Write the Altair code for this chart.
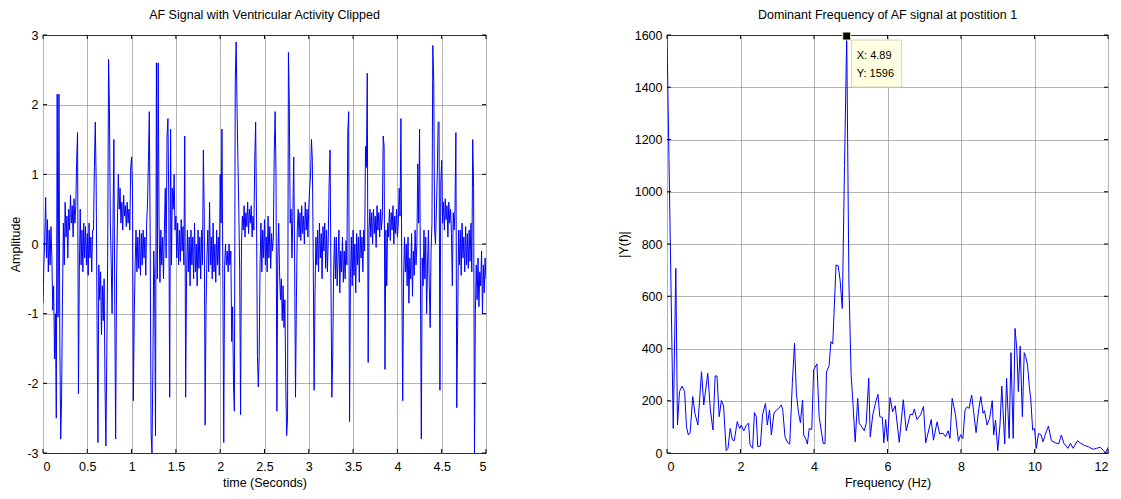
import altair as alt
import pandas as pd
import numpy as np

# ---------------- data: left panel (AF signal, sampled every 0.01 s) ----------------
DT = 0.01
signal = [
    -0.85, -0.30, 0.10, 0.67, -0.20, 0.35, -0.40, 0.20, -0.30, 0.25,   # 0.0
    -0.20, -0.95, -0.60, -1.65, -1.00, -2.50, 2.15, -1.05, 2.15, -1.40,  # 0.1
    -2.80, -2.20, -0.75, 0.30, -0.30, 0.60, 0.10, 0.40, -0.20, 0.50,   # 0.2
    0.20, 0.70, 0.30, 0.55, 0.10, 0.65, 0.30, 0.55, 1.20, 1.60,        # 0.3
    -2.15, -0.40, 0.50, -0.30, 0.20, -0.40, 0.30, -0.20, 0.25, -0.30,  # 0.4
    0.15, -0.45, 0.30, -0.20, 0.10, -0.40, 0.20, 0.20, 1.10, 1.75,     # 0.5
    0.90, -1.10, -2.85, -0.30, -0.80, -0.40, -1.30, -0.60, -1.10, -0.50,  # 0.6
    -2.05, -2.90, -1.60, -0.20, 2.65, 1.95, 0.30, -0.30, -1.00, 0.30,  # 0.7
    1.50, -0.90, -2.80, -0.50, 0.30, 1.00, 0.50, 0.80, 0.30, 0.60,     # 0.8
    0.20, 0.70, 0.40, 0.55, 0.25, 0.60, 0.30, 0.50, 0.20, 1.10,        # 0.9
    1.25, 0.80, -2.25, -1.00, -0.30, 0.20, -0.40, 0.10, -0.35, 0.20,   # 1.0
    -0.45, 0.15, -0.30, 0.20, -0.20, 0.10, -0.45, 0.30, 0.60, 1.20,    # 1.1
    1.90, 0.00, -2.70, -3.00, -1.80, -0.10, -0.60, -2.75, 2.60, -0.50, # 1.2
    2.60, 0.30, -0.55, 0.20, -0.30, 0.10, -0.50, 0.20, 0.80, -0.20,    # 1.3
    1.55, 1.80, 0.60, -2.20, 1.65, -0.30, 0.80, 0.50, 1.00, 0.20,      # 1.4
    0.40, -0.20, 0.30, -0.30, 0.20, -0.25, 0.35, -0.10, 0.25, -0.30,   # 1.5
    1.55, -2.20, -0.50, 0.20, -0.40, 0.10, -0.60, 0.20, -0.30, 0.10,   # 1.6
    -0.50, 0.30, -0.40, 0.00, -0.60, 0.20, -0.35, 0.10, -0.50, 0.20,   # 1.7
    -0.30, 1.35, 0.40, -2.60, -0.90, -0.20, 0.20, -0.40, 0.60, -0.30,  # 1.8
    0.10, -0.50, 0.30, -0.40, 0.00, -0.55, 0.20, -0.30, 0.10, -0.45,   # 1.9
    1.00, 0.30, 1.65, -0.50, -2.85, -0.30, 0.00, -0.30, -0.10, -0.40,  # 2.0
    0.00, -0.30, -0.10, -1.40, -0.90, -2.00, -2.40, 2.35, 2.90, 1.95,  # 2.1
    1.20, 0.50, -0.40, -2.45, 0.00, 0.40, 0.20, 0.55, 0.10, 0.45,      # 2.2
    0.25, 0.60, 0.15, 0.50, 0.30, 0.55, 0.10, 0.40, 0.20, 1.20,        # 2.3
    1.75, 0.40, -1.60, -2.05, -1.60, -0.30, 0.30, -0.40, 0.20, -0.20,  # 2.4
    0.35, -0.30, 0.10, -0.40, 0.40, -0.20, 0.25, -0.35, 0.15, -0.10,   # 2.5
    0.10, 1.30, 1.90, 1.00, -2.40, -0.20, 0.30, -0.40, -0.80, -0.50,   # 2.6
    -1.10, -0.60, -1.20, -0.80, -2.00, -2.75, -2.50, 2.75, 2.00, 0.30, # 2.7
    0.50, -0.20, 0.40, 1.25, -0.20, -2.20, -0.80, 0.20, 0.50, 0.10,    # 2.8
    0.45, 0.05, 0.55, 0.15, 0.40, 0.00, 0.60, 0.20, 0.50, 0.10,        # 2.9
    0.55, 0.80, 1.00, 1.50, 1.20, -0.20, -2.10, -0.70, 0.10, -0.30,    # 3.0
    0.20, -0.40, 0.30, -0.20, 0.15, -0.50, 0.25, -0.10, 0.30, -0.35,   # 3.1
    0.20, -0.40, 0.10, 0.90, 1.35, -0.50, -2.20, -1.60, -0.40, 0.10,   # 3.2
    -0.50, 0.10, -0.60, -0.20, 0.20, -0.70, -0.10, -0.40, 0.10, -0.55, # 3.3
    -0.10, -0.50, 0.05, -0.30, 1.60, 1.90, -2.55, -0.50, 0.10, -0.60,  # 3.4
    0.20, -0.45, 0.00, -0.70, 0.15, -0.30, 0.10, -0.55, 0.20, -0.20,   # 3.5
    0.10, -0.40, 0.20, -0.10, 1.40, 1.10, 2.45, -1.70, 0.20, 0.50,     # 3.6
    0.10, 0.45, 0.00, 0.50, 0.15, 0.40, -0.05, 0.55, 0.20, 0.45,       # 3.7
    0.10, 0.50, 0.20, 0.40, 1.55, 1.40, -1.80, 0.20, -0.60, 0.30,      # 3.8
    0.10, 0.50, 0.05, 0.45, 0.20, 0.55, 0.00, 0.40, 0.15, 0.50,        # 3.9
    0.10, 0.30, 0.80, 0.40, 1.80, -0.50, -2.25, -0.50, 0.10, -0.40,    # 4.0
    0.00, -0.60, 0.10, -0.85, -0.20, -0.50, 0.15, -0.75, -0.10, -0.45, # 4.1
    0.20, -0.30, 0.00, 1.15, 0.30, 1.65, -0.50, -2.80, -0.20, -0.60,   # 4.2
    0.20, -0.50, 0.10, -1.00, -0.30, 0.20, -0.60, -1.20, -0.10, 0.30,  # 4.3
    2.85, 2.35, 0.20, 0.00, 0.50, 1.00, 1.75, 1.75, -2.10, 0.90,       # 4.4
    1.20, 0.30, 0.60, 0.20, 0.65, 0.35, 0.55, 0.10, 0.60, 0.30,        # 4.5
    0.50, 0.15, -0.60, 0.45, 0.20, 0.50, 1.60, -2.35, -1.20, 0.20,     # 4.6
    -0.30, 0.20, -0.45, 0.30, -0.20, 0.10, -0.40, 0.25, -0.30, 0.15,   # 4.7
    -0.35, 0.20, -0.25, 0.30, -0.40, 1.50, 0.80, -3.00, -1.00, -0.30,  # 4.8
    -0.80, -0.20, -0.90, -0.40, -0.60, -0.10, -1.00, -0.30, -0.70, -0.20,  # 4.9
    -0.50,
]
time_ticks = [0, 0.5, 1, 1.5, 2, 2.5, 3, 3.5, 4, 4.5, 5]
amp_ticks = [-3, -2, -1, 0, 1, 2, 3]

# ---------------- data: right panel (magnitude spectrum) ----------------
freq = [
    0.00, 0.17, 0.24, 0.285, 0.34, 0.41, 0.48, 0.53, 0.58, 0.63, 0.70, 0.76, 0.84, 0.94,
    1.00, 1.11, 1.18, 1.25, 1.31, 1.36, 1.42, 1.48, 1.54, 1.61, 1.66, 1.72, 1.78, 1.83,
    1.91, 1.98, 2.02, 2.09, 2.16, 2.22, 2.26, 2.33, 2.38, 2.43, 2.47, 2.54, 2.60, 2.68,
    2.73, 2.79, 2.84, 2.91, 2.98, 3.04, 3.11, 3.15, 3.21, 3.28, 3.34, 3.41, 3.47, 3.52,
    3.58, 3.63, 3.69, 3.72, 3.78, 3.82, 3.87, 3.94, 3.99, 4.08, 4.14, 4.25, 4.30, 4.34,
    4.41, 4.46, 4.51, 4.60, 4.66, 4.71, 4.77, 4.83, 4.89, 4.95, 5.01, 5.06, 5.12, 5.19,
    5.23, 5.30, 5.37, 5.42, 5.49, 5.53, 5.60, 5.67, 5.74, 5.79, 5.86, 5.90, 5.95, 6.00,
    6.07, 6.14, 6.21, 6.32, 6.43, 6.51, 6.62, 6.68, 6.73, 6.80, 6.90, 6.98, 7.04, 7.19,
    7.25, 7.35, 7.42, 7.51, 7.58, 7.65, 7.70, 7.76, 7.85, 7.93, 7.99, 8.05, 8.11, 8.17,
    8.22, 8.29, 8.36, 8.41, 8.48, 8.54, 8.60, 8.64, 8.71, 8.78, 8.85, 8.89, 8.94, 9.00,
    9.06, 9.11, 9.19, 9.24, 9.31, 9.36, 9.42, 9.47, 9.52, 9.56, 9.61, 9.67, 9.72, 9.76,
    9.81, 9.86, 9.90, 9.95, 10.00, 10.05, 10.11, 10.18, 10.23, 10.32, 10.38, 10.46, 10.57,
    10.66, 10.73, 10.80, 10.91, 10.98, 11.05, 11.17, 11.26, 11.37, 11.47, 11.59, 11.69,
    11.79, 11.88, 11.93, 12.00,
]
mag = [
    1600, 94, 707, 107, 235, 256, 235, 101, 69, 78, 216, 152, 107, 311,
    184, 305, 165, 88, 295, 295, 139, 201, 180, 9, 18, 94, 50, 47,
    120, 94, 107, 85, 107, 114, 31, 18, 155, 139, 24, 27, 146, 190,
    107, 165, 69, 152, 165, 171, 184, 165, 63, 40, 34, 267, 420, 229,
    152, 116, 203, 69, 53, 34, 94, 90, 318, 341, 139, 37, 35, 311,
    333, 426, 417, 720, 716, 662, 553, 1100, 1596, 650, 300, 190, 43, 209,
    114, 100, 85, 114, 286, 62, 146, 190, 225, 139, 136, 39, 128, 45,
    212, 158, 181, 41, 204, 85, 149, 146, 168, 128, 146, 178, 39, 128,
    49, 119, 73, 76, 62, 85, 56, 209, 146, 45, 70, 55, 165, 177,
    171, 222, 139, 78, 165, 216, 152, 162, 107, 133, 200, 69, 126, 9,
    107, 256, 35, 286, 56, 384, 56, 477, 394, 235, 409, 139, 384, 369,
    337, 254, 203, 88, 94, 18, 75, 69, 43, 82, 103, 47, 39,
    35, 69, 37, 18, 37, 18, 47, 37, 28, 24, 14, 18,
    22, 9, 0, 22,
]
freq_ticks = [0, 2, 4, 6, 8, 10, 12]
mag_ticks = [0, 200, 400, 600, 800, 1000, 1200, 1400, 1600]
tip_x, tip_y = 4.89, 1596

# ---------------- styling ----------------
FONT = "Liberation Sans"
FS = 12.5
BLUE = "#0000ff"
LW, RW, H = 443, 441, 418
TICK = 4

sig_df = pd.DataFrame({"t": np.round(np.arange(len(signal)) * DT, 3), "v": signal})
spec_df = pd.DataFrame({"f": freq, "m": mag})

def axis(title, values):
    return alt.Axis(title=title, values=values, labelExpr="'' + datum.value",
                    grid=True, ticks=False, domain=False)

# ---------- left panel ----------
xl = alt.X("t:Q", scale=alt.Scale(domain=[0, 5], nice=False, zero=False),
           axis=axis("time (Seconds)", time_ticks))
yl = alt.Y("v:Q", scale=alt.Scale(domain=[-3, 3], nice=False, zero=False),
           axis=axis("Amplitude", amp_ticks))

left_line = alt.Chart(sig_df).mark_line(color=BLUE, strokeWidth=1, clip=True).encode(x=xl, y=yl)

lt_x = pd.DataFrame({"t": time_ticks})
lt_y = pd.DataFrame({"v": amp_ticks})
l_bot = alt.Chart(lt_x).mark_rule(color="black").encode(x="t:Q", y=alt.value(H), y2=alt.value(H - TICK))
l_top = alt.Chart(lt_x).mark_rule(color="black").encode(x="t:Q", y=alt.value(0), y2=alt.value(TICK))
l_lft = alt.Chart(lt_y).mark_rule(color="black").encode(y="v:Q", x=alt.value(0), x2=alt.value(TICK))
l_rgt = alt.Chart(lt_y).mark_rule(color="black").encode(y="v:Q", x=alt.value(LW), x2=alt.value(LW - TICK))

left = alt.layer(left_line, l_bot, l_top, l_lft, l_rgt).properties(
    width=LW, height=H,
    title=alt.TitleParams("AF Signal with Ventricular Activity Clipped", fontSize=FS,
                          fontWeight="normal", font=FONT, color="black", offset=8),
)

# ---------- right panel ----------
xr = alt.X("f:Q", scale=alt.Scale(domain=[0, 12], nice=False, zero=False),
           axis=axis("Frequency (Hz)", freq_ticks))
yr = alt.Y("m:Q", scale=alt.Scale(domain=[0, 1600], nice=False, zero=False),
           axis=axis("|Y(f)|", mag_ticks))

right_line = alt.Chart(spec_df).mark_line(color=BLUE, strokeWidth=1, clip=True).encode(x=xr, y=yr)

rt_x = pd.DataFrame({"f": freq_ticks})
rt_y = pd.DataFrame({"m": mag_ticks})
r_bot = alt.Chart(rt_x).mark_rule(color="black").encode(x="f:Q", y=alt.value(H), y2=alt.value(H - TICK))
r_top = alt.Chart(rt_x).mark_rule(color="black").encode(x="f:Q", y=alt.value(0), y2=alt.value(TICK))
r_lft = alt.Chart(rt_y).mark_rule(color="black").encode(y="m:Q", x=alt.value(0), x2=alt.value(TICK))
r_rgt = alt.Chart(rt_y).mark_rule(color="black").encode(y="m:Q", x=alt.value(RW), x2=alt.value(RW - TICK))

tip_df = pd.DataFrame({"f": [tip_x], "m": [tip_y],
                       "lx": [f"X: {tip_x}"], "ly": [f"Y: {tip_y}"]})
tip_box = alt.Chart(tip_df).mark_rect(
    fill="#ffffe1", stroke="#d4d4c0", strokeWidth=1,
    xOffset=5, x2Offset=55, yOffset=4, y2Offset=51,
).encode(x="f:Q", x2="f", y="m:Q", y2="m")
tip_t1 = alt.Chart(tip_df).mark_text(align="left", baseline="middle", dx=10, dy=20,
                                     font=FONT, fontSize=11, color="black").encode(x="f:Q", y="m:Q", text="lx:N")
tip_t2 = alt.Chart(tip_df).mark_text(align="left", baseline="middle", dx=10, dy=38,
                                     font=FONT, fontSize=11, color="black").encode(x="f:Q", y="m:Q", text="ly:N")
tip_mark = alt.Chart(tip_df).mark_square(size=64, color="black", opacity=1, stroke="#f0f0c8",
                                         strokeWidth=1).encode(x="f:Q", y="m:Q")

right = alt.layer(right_line, r_bot, r_top, r_lft, r_rgt, tip_box, tip_t1, tip_t2, tip_mark).properties(
    width=RW, height=H,
    title=alt.TitleParams("Dominant Frequency of AF signal at postition 1", fontSize=FS,
                          fontWeight="normal", font=FONT, color="black", offset=8),
)

chart = alt.hconcat(left, right, spacing=181, bounds="flush").configure_view(
    stroke="black", strokeWidth=1
).configure_axis(
    labelFont=FONT, labelFontSize=FS, labelColor="black",
    titleFont=FONT, titleFontSize=FS, titleFontWeight="normal", titleColor="black",
    gridWidth=1,
).configure_axisX(
    labelPadding=7, titlePadding=4, gridColor="#b4b4b4", gridOpacity=1
).configure_axisY(
    labelPadding=5, titlePadding=4, gridColor="#666666", gridDash=[1, 1], gridOpacity=1
).properties(
    background="white", padding={"left": 1, "top": 0, "right": 0, "bottom": 0}
)

chart.save("out.html", embed_options={"renderer": "svg", "actions": False})
